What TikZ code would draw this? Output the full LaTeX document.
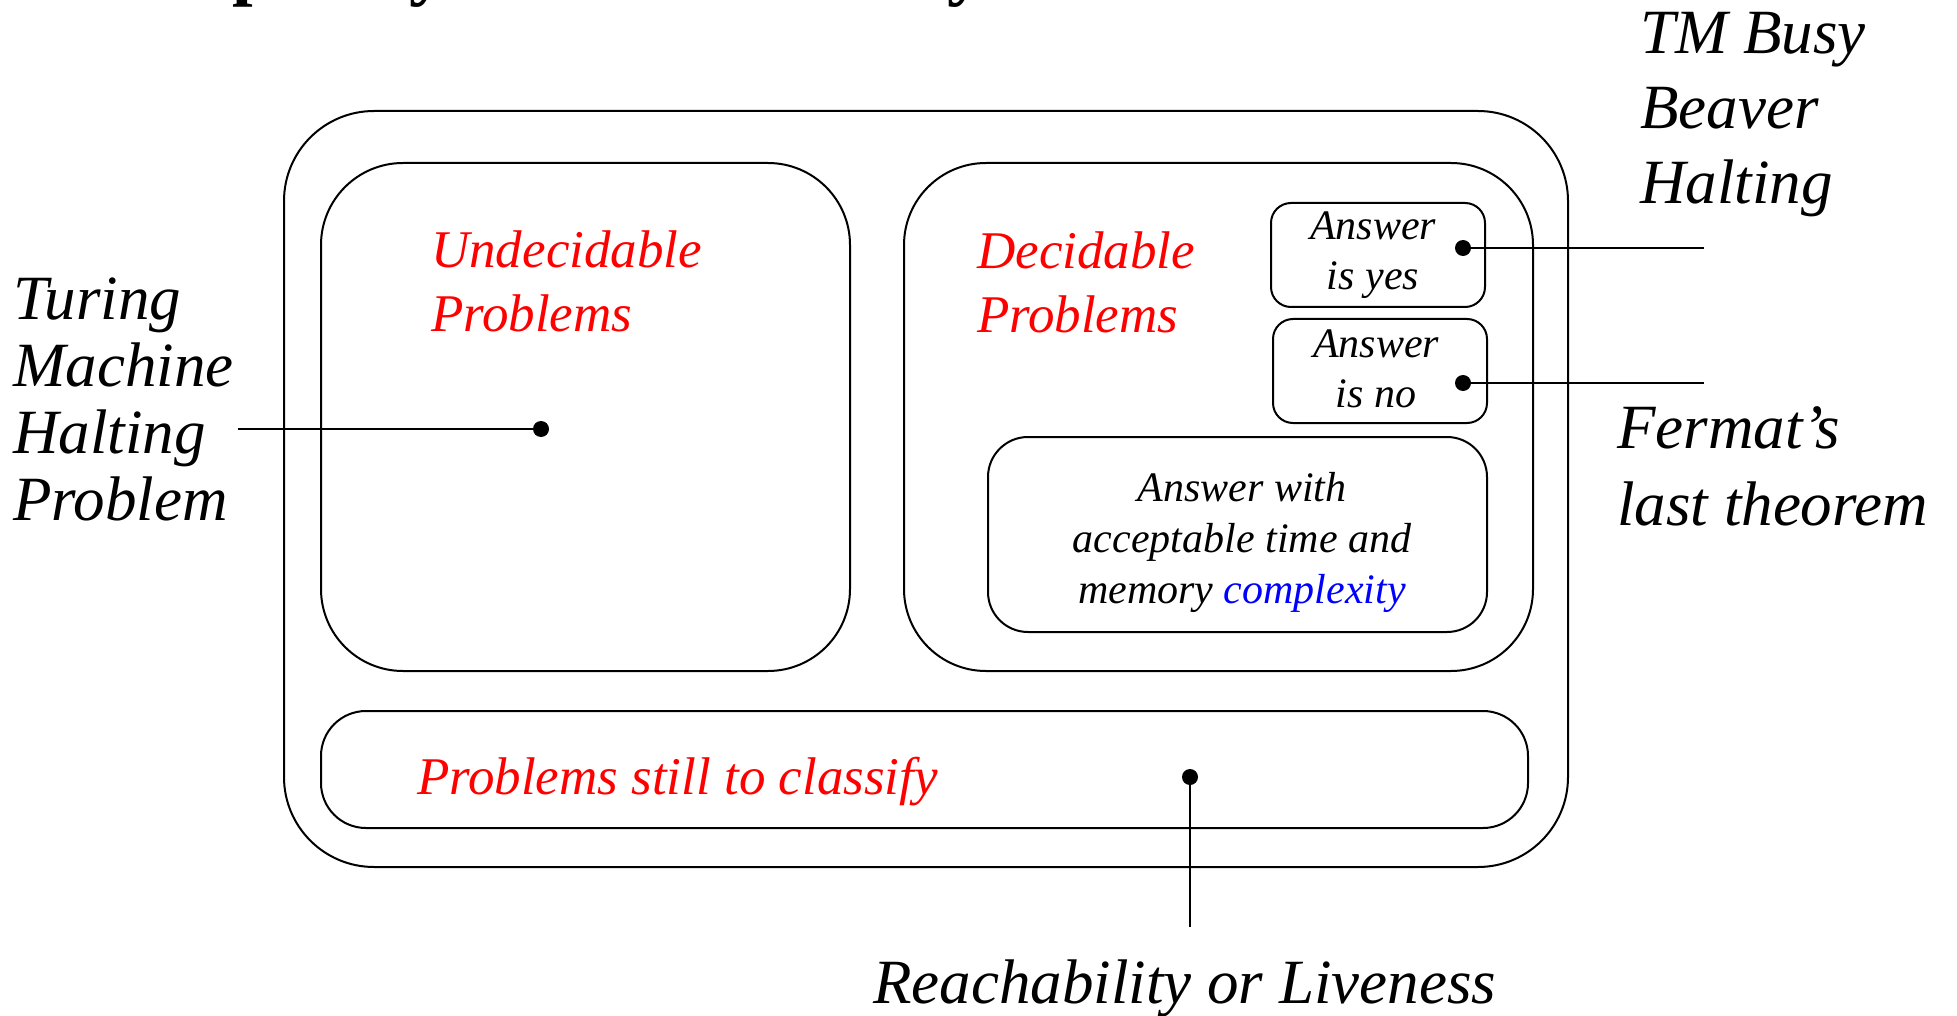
\documentclass[tikz,border=0pt]{standalone}
\usepackage{fontspec}
\setmainfont{Liberation Serif}
\begin{document}
\begin{tikzpicture}[x=1pt,y=-1pt,
  box/.style={draw, line width=2pt, rectangle, inner sep=0pt, outer sep=0pt},
  dotnode/.style={circle, fill=black, inner sep=0pt, minimum size=16pt},
  conn/.style={line width=2pt},
  redlbl/.style={text=red, font=\fontsize{53}{64}\selectfont\itshape, align=left, anchor=base west, inner sep=0pt},
  biglbl/.style={font=\fontsize{63}{#1}\selectfont\itshape, align=left, anchor=base west, inner sep=0pt},
  smalllbl/.style={font=\fontsize{42}{#1}\selectfont\itshape, align=center, anchor=base, inner sep=0pt}
]
\useasboundingbox (0,0) rectangle (1957,1016);
\begin{scope}
\clip (0,0) rectangle (1957,1016);
\node[font=\fontsize{74}{80}\selectfont\bfseries, anchor=base west, inner sep=0pt] (title) at (80,-8) {Complexity and Decidability};
\end{scope}

% boxes
\node[box, rounded corners=90pt, minimum width=1284pt, minimum height=756pt] (outer) at (926,489) {};
\node[box, rounded corners=82pt, minimum width=529pt, minimum height=508pt] (undec) at (585.5,417) {};
\node[box, rounded corners=82pt, minimum width=629pt, minimum height=508pt] (dec) at (1218.5,417) {};
\node[box, rounded corners=20pt, minimum width=214pt, minimum height=104pt] (yes) at (1378,255) {};
\node[box, rounded corners=20pt, minimum width=214pt, minimum height=104pt] (no) at (1380,371) {};
\node[box, rounded corners=40pt, minimum width=499pt, minimum height=195pt] (cplx) at (1237.5,534.5) {};
\node[box, rounded corners=45pt, minimum width=1207pt, minimum height=117pt] (still) at (924.5,769.5) {};

% texts inside (anchor base = baseline of the last line)
\node[redlbl] (undectxt) at (431,331) {Undecidable\\Problems};
\node[redlbl] (dectxt) at (977,333) {Decidable\\Problems};
\node[redlbl] (stilltxt) at (417,794) {Problems still to classify};
\node[smalllbl=50] (yestxt) at (1373,290) {Answer\\is yes};
\node[smalllbl=50] (notxt) at (1376,407) {Answer\\is no};
\node[smalllbl=51] (cplxtxt) at (1242,603) {Answer with\\acceptable time and\\memory \textcolor{blue}{complexity}};

% outside labels
\node[biglbl=67] (turing) at (13,520) {Turing\\Machine\\Halting\\Problem};
\node[biglbl=75] (busy) at (1640,204) {TM Busy\\Beaver\\Halting};
\node[biglbl=77] (fermat) at (1617,525) {Fermat’s\\last theorem};
\node[biglbl=67] (reach) at (873,1003) {Reachability or Liveness};

% dots
\node[dotnode] (dturing) at (541,429) {};
\node[dotnode] (dyes) at (1463,248) {};
\node[dotnode] (dno) at (1463,383) {};
\node[dotnode] (dstill) at (1190,777) {};

% free ends
\coordinate (eturing) at (238,429);
\coordinate (eyes) at (1704,248);
\coordinate (eno) at (1704,383);
\coordinate (estill) at (1190,927);

\draw[conn] (eturing) -- (dturing.center);
\draw[conn] (dyes.center) -- (eyes);
\draw[conn] (dno.center) -- (eno);
\draw[conn] (dstill.center) -- (estill);
\end{tikzpicture}
\end{document}
